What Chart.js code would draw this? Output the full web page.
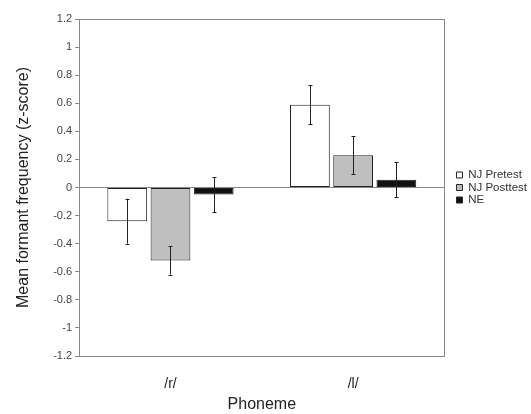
<!DOCTYPE html>
<html>
<head>
<meta charset="utf-8">
<script src="https://cdn.jsdelivr.net/npm/chart.js@4"></script>
<style>
  html, body { margin: 0; padding: 0; background: #fff; }
  #wrap { width: 531px; height: 414px; }
</style>
</head>
<body>
<div id="wrap"><canvas id="barChart"></canvas></div>
<script>
const phonemes = ['/r/', '/l/'];
const groups = ['NJ Pretest', 'NJ Posttest', 'NE'];
const pretest = [-0.24, 0.59];
const posttest = [-0.52, 0.23];
const ne = [-0.05, 0.055];
const pretestErr = [0.16, 0.14];
const posttestErr = [0.10, 0.135];
const neErr = [0.125, 0.125];
const yTicks = [-1.2, -1, -0.8, -0.6, -0.4, -0.2, 0, 0.2, 0.4, 0.6, 0.8, 1, 1.2];

Chart.defaults.font.family = '"Liberation Sans", Arial, sans-serif'
Chart.defaults.color = '#333'

// error bars drawn from the y scale
const errorBars = {
  id: 'errorBars',
  afterDatasetsDraw: (chart) => {
    const { ctx, scales: { y } } = chart;
    ctx.save();
    ctx.strokeStyle = '#222';
    ctx.lineWidth = 1;
    chart.data.datasets.forEach((ds, i) => {
      const meta = chart.getDatasetMeta(i);
      meta.data.forEach((bar, j) => {
        const v = ds.data[j];
        const e = ds.errors[j];
        const x = Math.round(bar.x) + 0.5;
        const top = y.getPixelForValue(v + e);
        const bot = y.getPixelForValue(v - e);
        ctx.beginPath();
        ctx.moveTo(x, top);
        ctx.lineTo(x, bot);
        ctx.moveTo(x - 2, Math.round(top) + 0.5);
        ctx.lineTo(x + 2, Math.round(top) + 0.5);
        ctx.moveTo(x - 2, Math.round(bot) + 0.5);
        ctx.lineTo(x + 2, Math.round(bot) + 0.5);
        ctx.stroke();
      });
    });
    ctx.restore();
  }
};

// box round the plot area, legend nudged away from it
const plotFrame = {
  id: 'plotFrame',
  afterLayout: (chart) => {
    chart.legend.left += 11;
    chart.legend.right += 11;
  },
  afterDraw: (chart) => {
    const { ctx, chartArea: a } = chart;
    ctx.save();
    ctx.strokeStyle = '#888';
    ctx.lineWidth = 1;
    ctx.strokeRect(Math.round(a.left) + 0.5, Math.round(a.top) + 0.5,
      Math.round(a.right - a.left), Math.round(a.bottom - a.top));
    ctx.restore();
  }
};

const makeSet = (label, data, errors, fill) => ({
  label: label,
  data: data,
  errors: errors,
  backgroundColor: fill,
  borderColor: '#222',
  borderWidth: 1,
  borderSkipped: false,
  barPercentage: 0.92,
  categoryPercentage: 0.71
});

new Chart(document.getElementById('barChart'), {
  type: 'bar',
  data: {
    labels: phonemes,
    datasets: [
      makeSet(groups[0], pretest, pretestErr, '#ffffff'),
      makeSet(groups[1], posttest, posttestErr, '#bfbfbf'),
      makeSet(groups[2], ne, neErr, '#111111')
    ]
  },
  options: {
    responsive: true,
    maintainAspectRatio: false,
    animation: false,
    layout: { padding: { top: 19, right: 5, bottom: 0, left: 14 } },
    plugins: {
      legend: {
        position: 'right',
        fullSize: false,
        labels: {
          boxWidth: 6,
          boxHeight: 6,
          padding: 1,
          font: { size: 11.5 },
          color: '#333'
        }
      },
      tooltip: { enabled: false }
    },
    scales: {
      x: {
        grid: { display: false, drawTicks: true, tickLength: 17 },
        border: { display: true, color: '#888' },
        ticks: { padding: 2.5, font: { size: 14 }, color: '#222' },
        title: { display: true, text: 'Phoneme', font: { size: 16 }, color: '#222', padding: 0 }
      },
      y: {
        min: -1.2,
        max: 1.2,
        afterBuildTicks: (axis) => { axis.ticks = yTicks.map((v) => ({ value: v })); },
        grid: {
          color: (c) => (c.tick && c.tick.value === 0 ? '#888' : 'rgba(0,0,0,0)'),
          tickColor: '#888',
          tickLength: 4
        },
        border: { display: true, color: '#888' },
        ticks: {
          padding: 3,
          font: { size: 11 },
          color: '#444',
          callback: (value) => `${Math.round(value * 10) / 10}`
        },
        title: { display: true, text: 'Mean formant frequency (z-score)', font: { size: 16 }, color: '#222', padding: { top: 0, bottom: 17 } }
      }
    }
  },
  plugins: [errorBars, plotFrame]
});
</script>
</body>
</html>
